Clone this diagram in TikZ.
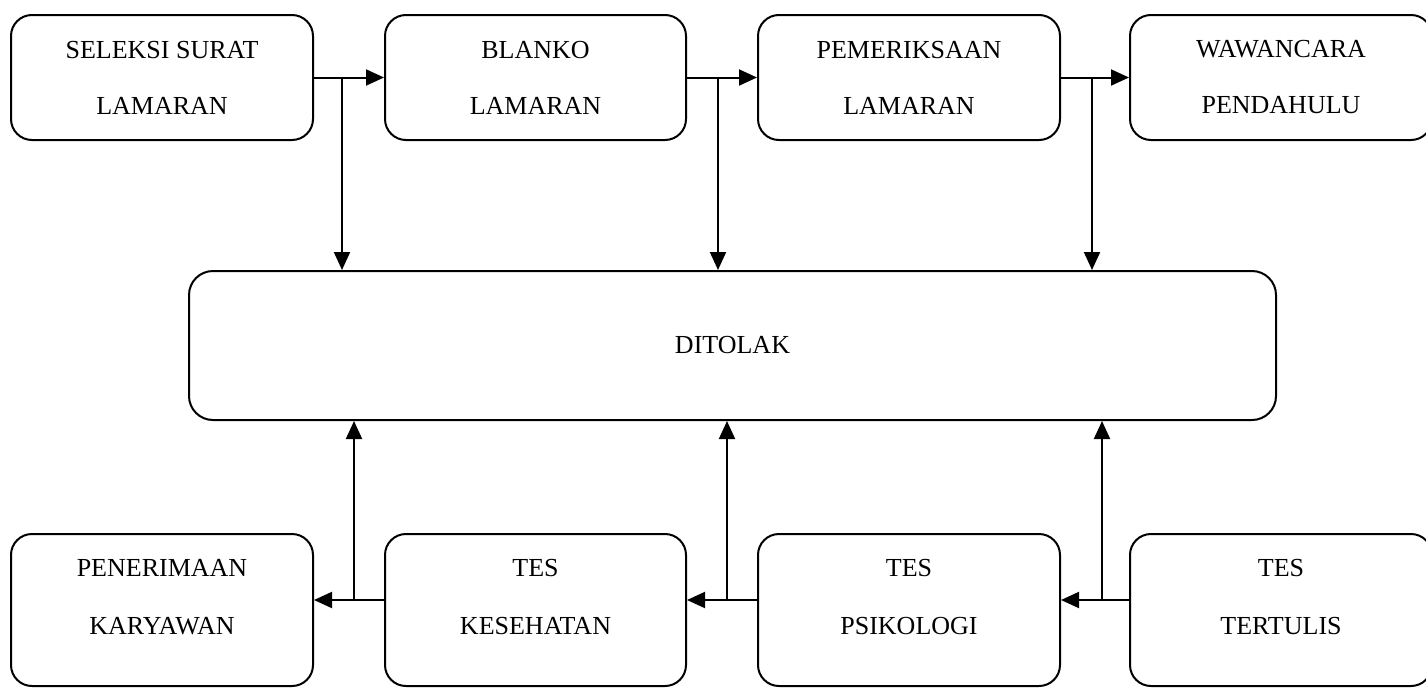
\documentclass[tikz,border=0pt]{standalone}
\usepackage{fontspec}
\setmainfont{Liberation Serif}
\usetikzlibrary{arrows.meta}
\tikzset{
  boxs/.style={draw, line width=2pt, rounded corners=21pt, inner sep=0pt},
  txt/.style={align=center, font=\fontsize{26}{56}\selectfont, inner sep=0pt},
  txtb/.style={align=center, font=\fontsize{26}{58}\selectfont, inner sep=0pt},
  ln/.style={line width=2pt},
  arr/.style={line width=2pt, -{Triangle[length=18pt,width=16pt]}}
}
\begin{document}
\begin{tikzpicture}
\useasboundingbox (0,0) rectangle (1426pt,-688pt);
% top row
\node[boxs, minimum width=302pt, minimum height=125pt, txt] (t1) at (162pt,-77.5pt) {SELEKSI SURAT\\LAMARAN};
\node[boxs, minimum width=301pt, minimum height=125pt, txt] (t2) at (535.5pt,-77.5pt) {BLANKO\\LAMARAN};
\node[boxs, minimum width=302pt, minimum height=125pt, txt] (t3) at (909pt,-77.5pt) {PEMERIKSAAN\\LAMARAN};
\node[boxs, minimum width=302pt, minimum height=125pt, txt] (t4) at (1281pt,-77.5pt) {WAWANCARA\\PENDAHULU};
% middle
\node[boxs, rounded corners=24pt, minimum width=1087pt, minimum height=149pt, txt] (dit) at (732.5pt,-345.5pt) {DITOLAK};
% bottom row
\node[boxs, minimum width=302pt, minimum height=152pt] (b1) at (162pt,-610pt) {};
\node[boxs, minimum width=301pt, minimum height=152pt] (b2) at (535.5pt,-610pt) {};
\node[boxs, minimum width=302pt, minimum height=152pt] (b3) at (909pt,-610pt) {};
\node[boxs, minimum width=302pt, minimum height=152pt] (b4) at (1281pt,-610pt) {};
\node[txtb] (b1t) at (162pt,-597pt) {PENERIMAAN\\KARYAWAN};
\node[txtb] (b2t) at (535.5pt,-597pt) {TES\\KESEHATAN};
\node[txtb] (b3t) at (909pt,-597pt) {TES\\PSIKOLOGI};
\node[txtb] (b4t) at (1281pt,-597pt) {TES\\TERTULIS};
% top connectors
\coordinate (j1) at (342pt,-77.5pt);
\coordinate (j2) at (718pt,-77.5pt);
\coordinate (j3) at (1092pt,-77.5pt);
\draw[ln] (t1.east) -- (j1);
\draw[arr] (j1) -- (t2.west);
\draw[arr] (j1) -- (j1 |- dit.north);
\draw[ln] (t2.east) -- (j2);
\draw[arr] (j2) -- (t3.west);
\draw[arr] (j2) -- (j2 |- dit.north);
\draw[ln] (t3.east) -- (j3);
\draw[arr] (j3) -- (t4.west);
\draw[arr] (j3) -- (j3 |- dit.north);
% bottom connectors
\coordinate (k3) at (1102pt,-600pt);
\coordinate (k2) at (727pt,-600pt);
\coordinate (k1) at (354pt,-600pt);
\draw[ln] (b4.west |- k3) -- (k3);
\draw[arr] (k3) -- (b3.east |- k3);
\draw[arr] (k3) -- (k3 |- dit.south);
\draw[ln] (b3.west |- k2) -- (k2);
\draw[arr] (k2) -- (b2.east |- k2);
\draw[arr] (k2) -- (k2 |- dit.south);
\draw[ln] (b2.west |- k1) -- (k1);
\draw[arr] (k1) -- (b1.east |- k1);
\draw[arr] (k1) -- (k1 |- dit.south);
\end{tikzpicture}
\end{document}
